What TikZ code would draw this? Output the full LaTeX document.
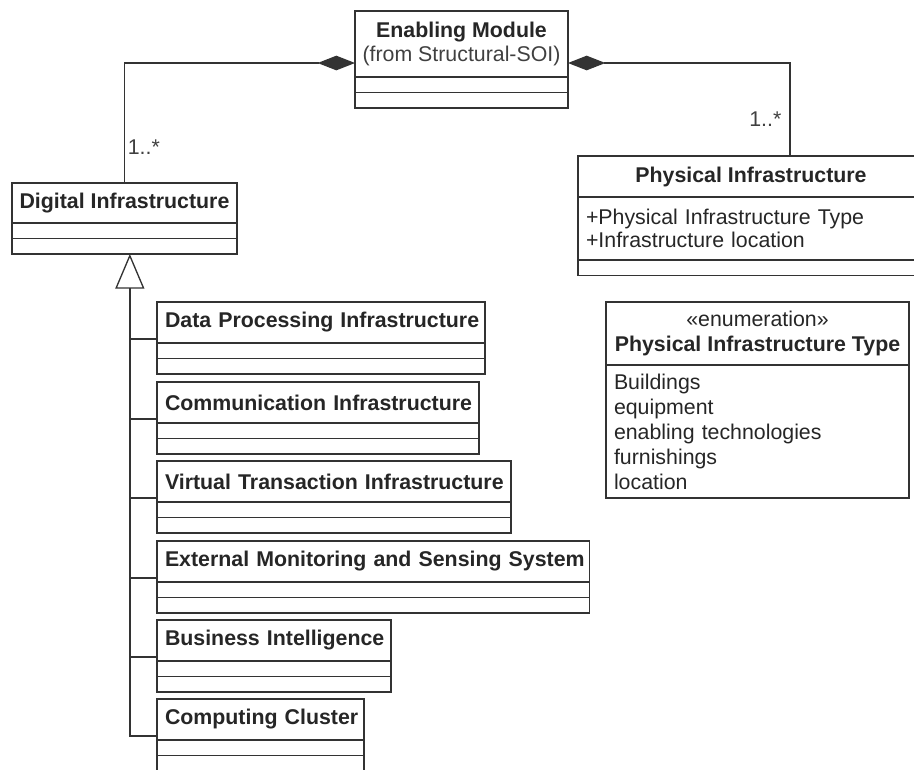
\documentclass[tikz,border=0pt]{standalone}
\usepackage{fontspec}
\setmainfont{Liberation Sans}
\usetikzlibrary{arrows.meta,positioning}

\begin{document}
\begin{tikzpicture}[
  x=0.75pt, y=-0.75pt,
  umlline/.style={draw=black!80, line width=1pt},
  clshead/.style={umlline, fill=white, text=black!85, anchor=north west,
    font=\fontsize{16}{18.5}\selectfont\bfseries, inner sep=0pt, outer sep=0pt,
    minimum height=30.75pt},
  clsbody/.style={umlline, fill=white, text=black!85, align=left,
    font=\fontsize{16}{18.5}\selectfont, inner xsep=6pt, inner ysep=0pt,
    outer sep=0pt, minimum height=11.6pt},
  subhead/.style={clshead, inner xsep=6pt, text width=#1, align=left},
  mult/.style={font=\fontsize{16}{18.5}\selectfont, text=black!75, inner sep=2pt},
  comp/.style={umlline, -{Diamond[length=28pt,width=11pt]}},
  gen/.style={umlline, -{Triangle[open,length=26pt,width=21.75pt,fill=white]}},
]
  \useasboundingbox (0,0) rectangle (914,769);
  \clip (0,0) rectangle (914,769);

  % enabling module
  \node[clshead, minimum width=159.75pt, minimum height=49.5pt, align=center] (em) at (355,11)
    {Enabling Module\\{\mdseries\color{black!75}(from Structural-SOI)}};
  \node[clsbody, minimum width=159.75pt, below=0pt of em] (em-a) {};
  \node[clsbody, minimum width=159.75pt, below=0pt of em-a] (em-o) {};

  % digital infrastructure
  \node[clshead, minimum width=168.75pt, minimum height=30pt] (di) at (12,183) {Digital Infrastructure};
  \node[clsbody, minimum width=168.75pt, below=0pt of di] (di-a) {};
  \node[clsbody, minimum width=168.75pt, below=0pt of di-a] (di-o) {};

  % physical infrastructure
  \node[clshead, minimum width=259.5pt] (pi) at (578,156) {Physical Infrastructure};
  \node[clsbody, text width=247.5pt, minimum height=47.25pt,
    font=\fontsize{16}{17.25}\selectfont, below=0pt of pi] (pi-a)
    {+Physical Infrastructure Type\\+Infrastructure location};
  \node[clsbody, minimum width=259.5pt, below=0pt of pi-a] (pi-o) {};

  % enumeration
  \node[clshead, minimum width=227.25pt, minimum height=47.25pt, align=center] (pit) at (606,302)
    {{\mdseries «enumeration»}\\Physical Infrastructure Type};
  \node[clsbody, text width=215.25pt, minimum height=99.75pt,
    font=\fontsize{16}{18.75}\selectfont, below=0pt of pit] (pit-l)
    {Buildings\\equipment\\enabling technologies\\furnishings\\location};

  % subclasses
  \node[subhead=234pt] (dp) at (157,302) {\mbox{Data Processing Infrastructure}};
  \node[clsbody, minimum width=246pt, below=0pt of dp] (dp-a) {};
  \node[clsbody, minimum width=246pt, below=0pt of dp-a] (dp-o) {};

  \node[subhead=229.5pt] (ci) at (157,382) {\mbox{Communication Infrastructure}};
  \node[clsbody, minimum width=241.5pt, below=0pt of ci] (ci-a) {};
  \node[clsbody, minimum width=241.5pt, below=0pt of ci-a] (ci-o) {};

  \node[subhead=253.5pt] (vt) at (157,461) {\mbox{Virtual Transaction Infrastructure}};
  \node[clsbody, minimum width=265.5pt, below=0pt of vt] (vt-a) {};
  \node[clsbody, minimum width=265.5pt, below=0pt of vt-a] (vt-o) {};

  \node[subhead=312.5pt] (ex) at (157,541) {\mbox{External Monitoring and Sensing System}};
  \node[clsbody, minimum width=324.5pt, below=0pt of ex] (ex-a) {};
  \node[clsbody, minimum width=324.5pt, below=0pt of ex-a] (ex-o) {};

  \node[subhead=163.5pt] (bi) at (157,620) {\mbox{Business Intelligence}};
  \node[clsbody, minimum width=175.5pt, below=0pt of bi] (bi-a) {};
  \node[clsbody, minimum width=175.5pt, below=0pt of bi-a] (bi-o) {};

  \node[subhead=143.25pt] (cc) at (157,699) {\mbox{Computing Cluster}};
  \node[clsbody, minimum width=155.25pt, below=0pt of cc] (cc-a) {};
  \node[clsbody, minimum width=155.25pt, below=0pt of cc-a] (cc-o) {};

  % compositions
  \draw[comp] (di.north) |- node[mult, pos=0.15, anchor=west] {1..*} ([yshift=-14.25pt]em.west);
  \draw[comp] ([xshift=29.25pt]pi.north) |- node[mult, pos=0.2, anchor=east, xshift=-4pt] {1..*} ([yshift=-14.25pt]em.east);

  % generalization tree
  \coordinate (trunk) at ([xshift=4pt]di-o.south);
  \draw[gen] ([yshift=3pt]cc.south west) -| (trunk);
  \coordinate (dp-b) at ([yshift=3pt]dp.south west);
  \coordinate (ci-b) at ([yshift=3pt]ci.south west);
  \coordinate (vt-b) at ([yshift=3pt]vt.south west);
  \coordinate (ex-b) at ([yshift=3pt]ex.south west);
  \coordinate (bi-b) at ([yshift=3pt]bi.south west);
  \draw[umlline] (dp-b) -- (dp-b -| trunk);
  \draw[umlline] (ci-b) -- (ci-b -| trunk);
  \draw[umlline] (vt-b) -- (vt-b -| trunk);
  \draw[umlline] (ex-b) -- (ex-b -| trunk);
  \draw[umlline] (bi-b) -- (bi-b -| trunk);
\end{tikzpicture}
\end{document}
